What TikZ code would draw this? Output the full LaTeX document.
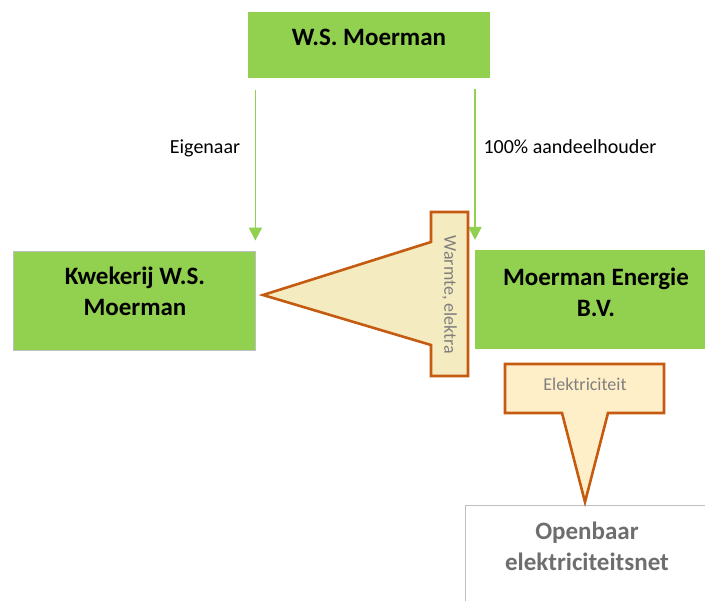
\documentclass[tikz,border=0pt]{standalone}
\usepackage{fontspec}
\setmainfont{Carlito}
\usetikzlibrary{arrows.meta}
\definecolor{boxgreen}{HTML}{92D050}
\definecolor{boxline}{HTML}{BFBFBF}
\definecolor{callline}{HTML}{C55A11}
\definecolor{callfillA}{HTML}{F4ECC0}
\definecolor{callfillB}{HTML}{FFEFC9}
\definecolor{graytext}{HTML}{7F7F7F}
\definecolor{darkgraytext}{HTML}{6E6E6E}
\tikzset{
  greenbox/.style={rectangle, fill=boxgreen, inner sep=0pt},
  boxtext/.style={align=center, font=\fontsize{25}{31}\selectfont\bfseries, text=black},
  greenarrow/.style={draw=boxgreen, line width=1.8pt, -{Triangle[length=13pt,width=13pt]}},
  arrowlabel/.style={font=\fontsize{20}{24}\selectfont, text=black},
  callout/.style={draw=callline, line width=2.6pt, line join=miter},
  calltext/.style={font=\fontsize{18}{22}\selectfont, text=graytext}
}
\begin{document}
\begin{tikzpicture}[x=1pt,y=-1pt]
\useasboundingbox (0,0) rectangle (705,601);
\clip (0,0) rectangle (705,601);
% boxes
\node[greenbox, minimum width=242pt, minimum height=66pt] (top) at (369,45) {};
\node[boxtext] (toptext) at (369,37) {W.S. Moerman};
\node[greenbox, draw=boxline, line width=0.8pt, minimum width=242pt, minimum height=99pt] (kwek) at (134,300.5) {};
\node[boxtext] (kwektext) at (135,291) {Kwekerij W.S.\\Moerman};
\node[greenbox, minimum width=242pt, minimum height=99pt, anchor=north west] (energie) at (475,250) {};
\node[boxtext] (energietext) at (596,292) {Moerman Energie\\B.V.};
\node[rectangle, fill=white, draw=boxline, line width=1pt, minimum width=250pt, minimum height=110pt, anchor=north west] (net) at (465,505) {};
\node[boxtext, text=darkgraytext] (nettext) at (587,546) {Openbaar\\elektriciteitsnet};
% arrows
\draw[greenarrow, shorten <=12pt, shorten >=10pt] (kwek.north east |- top.south) -- (kwek.north east);
\draw[greenarrow, shorten <=11pt, shorten >=10pt] (energie.north west |- top.south) -- (energie.north west);
\node[arrowlabel] (eigen) at (205,148) {Eigenaar};
\node[arrowlabel, anchor=west] (aandeel) at (480,147) {100\% aandeelhouder};
% callout Warmte
\draw[callout, fill=callfillA] (468,212) -- (431,212) -- (431,242) -- (263,295) -- (431,345) -- (431,376) -- (468,376) -- cycle;
\node[calltext, rotate=-90] (warmte) at (449.5,295) {Warmte, elektra};
% callout Elektriciteit
\draw[callout, fill=callfillB] (505,364) -- (664,364) -- (664,413) -- (608,413) -- (585,502) -- (562,413) -- (505,413) -- cycle;
\node[calltext] (elek) at (585,384) {Elektriciteit};
\end{tikzpicture}
\end{document}
